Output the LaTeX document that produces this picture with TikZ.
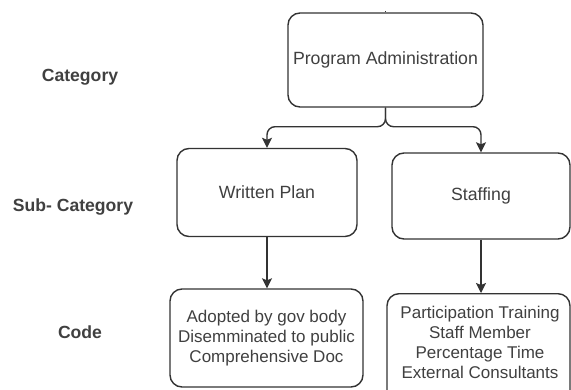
\documentclass[tikz,border=0pt]{standalone}
\usepackage{fontspec}
\setmainfont{Liberation Sans}
\usetikzlibrary{arrows.meta}
\definecolor{ink}{HTML}{333333}
\definecolor{txt}{HTML}{404040}
\begin{document}
\begin{tikzpicture}[x=1pt,y=-1pt,
  box/.style={draw=ink,line width=1.4pt,rounded corners=12pt,fill=white,
    text=txt,font=\fontsize{17.7}{20}\selectfont,align=center,inner sep=0pt},
  codebox/.style={box,font=\fontsize{17}{20}\selectfont},
  level/.style={text=txt,font=\bfseries\fontsize{17.6}{20}\selectfont},
  conn/.style={draw=ink,line width=1.4pt,
    -{Stealth[length=10pt,width=10pt,inset=2pt]}},
  joint/.style={conn,rounded corners=8pt}]
\useasboundingbox (0,0) rectangle (571,389);

% level labels
\node[level] (lcat) at (80,77) {Category};
\node[level] (lsub) at (73,207) {Sub- Category};
\node[level] (lcode) at (80,332) {Code};

% category
\node[box,minimum width=195pt,minimum height=94pt] (pa) at (385.5,60)
  {Program Administration};
\draw[draw=ink,line width=1.4pt] (pa.north) -- ++(0,-1.5);

% sub-categories
\node[box,minimum width=180pt,minimum height=88pt] (wp) at (267,192.5)
  {Written Plan};
\node[box,minimum width=178pt,minimum height=86pt] (st) at (481,196)
  {Staffing};

% codes
\node[codebox,minimum width=193pt,minimum height=98pt] (cwp) at (266.5,338)
  {Adopted by gov body\\Disemminated to public\\Comprehensive Doc};
\node[codebox,minimum width=183pt,minimum height=110pt,anchor=north] (cst) at (478.5,293) {};
\node[text=txt,font=\fontsize{17}{20}\selectfont,align=center,inner sep=0pt]
  (cstt) at (480,342)
  {Participation Training\\Staff Member\\Percentage Time\\External Consultants};

% connectors
\draw[joint] (pa.south) -- ++(0,19) -| (wp.north);
\draw[joint] (pa.south) -- ++(0,19) -| (st.north);
\draw[conn] (wp.south) -- (cwp.north -| wp.south);
\draw[conn] (st.south) -- (cst.north -| st.south);
\end{tikzpicture}
\end{document}
